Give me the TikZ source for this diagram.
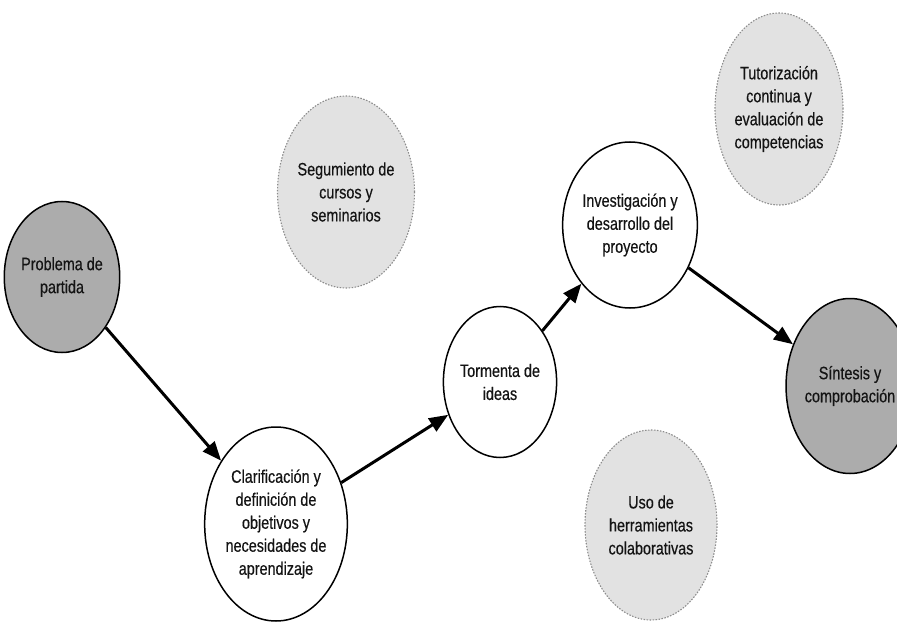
\documentclass[tikz,border=0pt]{standalone}
\usepackage{fontspec}
\setmainfont{Liberation Sans}[FakeStretch=0.8,FakeBold=0.4]
\usetikzlibrary{shapes.geometric,arrows.meta}
\definecolor{darkfill}{RGB}{172,172,172}
\definecolor{lightfill}{RGB}{226,226,226}
\definecolor{dotline}{RGB}{140,140,140}
\definecolor{inktext}{RGB}{20,20,20}
\begin{document}
\begin{tikzpicture}[x=1pt,y=-1pt,
  bubble/.style={ellipse, inner sep=0pt, align=center,
    font=\fontsize{18}{23}\selectfont, text=inktext},
  mainstep/.style={bubble, draw=black, line width=1.5pt, fill=white},
  endpoint/.style={mainstep, fill=darkfill},
  support/.style={bubble, draw=dotline, line width=1.1pt,
    dash pattern=on 1.5pt off 1.5pt, fill=lightfill},
  flow/.style={line width=3pt, -{Triangle[length=19pt,width=15pt]}}
]
\useasboundingbox (0,0) rectangle (897,623);
\fill[white] (0,0) rectangle (897,623);

% main sequence
\node[endpoint, minimum width=106pt, minimum height=151pt] (problema) at (62,277)
  {Problema de\\partida};
\node[mainstep, minimum width=135pt, minimum height=194pt] (clarif) at (276,524)
  {Clarificación y\\definición de\\objetivos y\\necesidades de\\aprendizaje};
\node[mainstep, minimum width=107pt, minimum height=151pt] (tormenta) at (500,382)
  {Tormenta de\\ideas};
\node[mainstep, minimum width=116pt, minimum height=166pt] (invest) at (630,225)
  {Investigación y\\desarrollo del\\proyecto};
\node[endpoint, minimum width=114pt, minimum height=175pt] (sintesis) at (850,386)
  {Síntesis y\\comprobación};

% supporting activities
\node[support, minimum width=132pt, minimum height=192pt] (cursos) at (346,192)
  {Segumiento de\\cursos y\\seminarios};
\node[support, minimum width=128pt, minimum height=192pt] (tutor) at (779,109)
  {Tutorización\\continua y\\evaluación de\\competencias};
\node[support, minimum width=132pt, minimum height=190pt] (uso) at (651,525)
  {Uso de\\herramientas\\colaborativas};

% connectors
\draw[flow] (problema) -- (clarif);
\draw[flow] (clarif) -- (tormenta);
\draw[flow] (tormenta) -- (invest);
\draw[flow] (invest) -- (sintesis);
\end{tikzpicture}
\end{document}
